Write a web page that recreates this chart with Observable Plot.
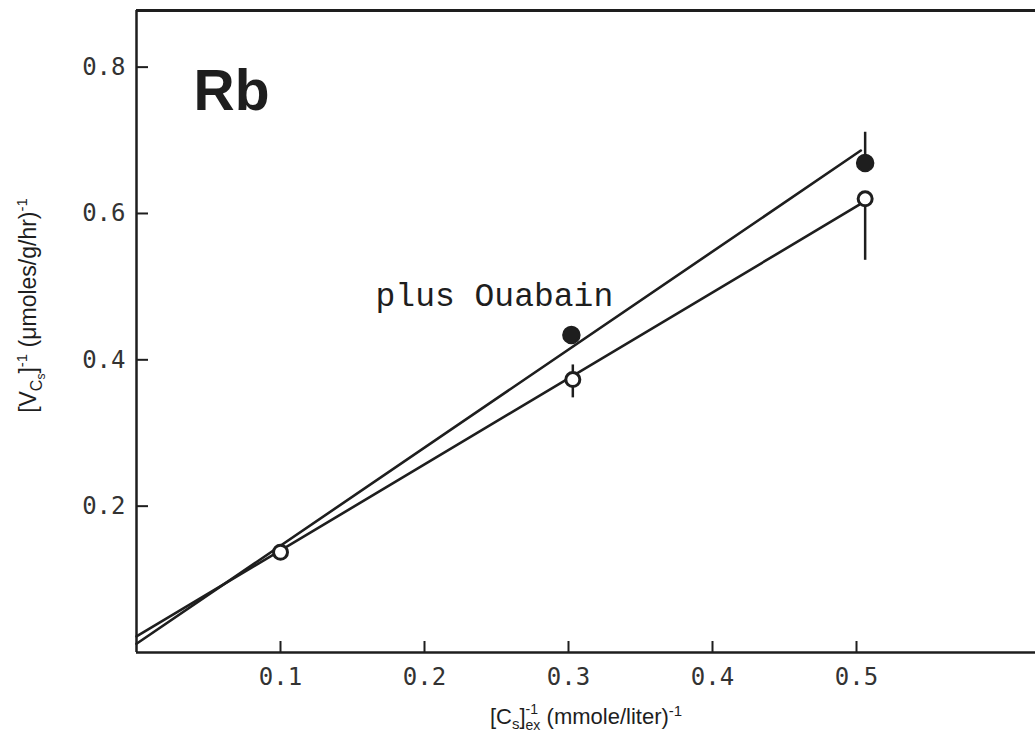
<!DOCTYPE html>
<html><head><meta charset="utf-8">
<script src="https://cdn.jsdelivr.net/npm/d3@7"></script>
<script src="https://cdn.jsdelivr.net/npm/@observablehq/plot@0.6"></script>
<style>html,body{margin:0;padding:0;background:#fff;overflow:hidden}</style>
</head><body><div id="chart"></div>
<script>
// ---- data ----
const xTicks = [0.1, 0.2, 0.3, 0.4, 0.5];
const yTicks = [0.2, 0.4, 0.6, 0.8];
const controlX = [0.1, 0.303, 0.506];
const controlY = [0.137, 0.373, 0.620];
const ouabainX = [0.302, 0.506];
const ouabainY = [0.434, 0.669];
const controlLineX = [0, 0.502];
const controlLineY = [0.022, 0.612];
const ouabainLineX = [0, 0.503];
const ouabainLineY = [0.012, 0.686];
const errX = [0.303, 0.506, 0.506];
const errLow = [0.348, 0.536, 0.669];
const errHigh = [0.393, 0.620, 0.711];
const panelLabel = "Rb";
const seriesLabel = "plus Ouabain";
const xDomain = [0, 0.6243];
const yDomain = [0, 0.8774];

// ---- build tables ----
const controlPts = controlX.map((x, i) => ({x, y: controlY[i]}));
const ouabainPts = ouabainX.map((x, i) => ({x, y: ouabainY[i]}));
const controlLine = controlLineX.map((x, i) => ({x, y: controlLineY[i]}));
const ouabainLine = ouabainLineX.map((x, i) => ({x, y: ouabainLineY[i]}));
const errs = errX.map((x, i) => ({x, y1: errLow[i], y2: errHigh[i]}));

const W = 1035, H = 736, mL = 136, mR = 0, mT = 10, mB = 84;
const pw = W - mL - mR, ph = H - mT - mB;
const ink = "#1e1e1e";

const chart = Plot.plot({
  width: W, height: H,
  marginLeft: mL, marginRight: mR, marginTop: mT, marginBottom: mB,
  style: {background: "#fff", color: "#333", fontFamily: "DejaVu Sans Mono", fontSize: "24px", overflow: "visible"},
  x: {domain: xDomain, ticks: xTicks, tickSize: 0, tickPadding: 15, tickFormat: d3.format(".1f"), label: null, line: false},
  y: {domain: yDomain, ticks: yTicks, tickSize: 0, tickPadding: 11, tickFormat: d3.format(".1f"), label: null, line: false},
  marks: [
    Plot.ruleY([yDomain[1]], {stroke: ink, strokeWidth: 3}),
    Plot.ruleY([0], {stroke: ink, strokeWidth: 2.5}),
    Plot.ruleX([0], {stroke: ink, strokeWidth: 2.5}),
    Plot.tickX(xTicks, {x: d => d, stroke: ink, strokeWidth: 2, insetTop: ph - 11}),
    Plot.tickY(yTicks, {y: d => d, stroke: ink, strokeWidth: 2, insetRight: pw - 12}),
    Plot.line(ouabainLine, {x: "x", y: "y", stroke: ink, strokeWidth: 2.6}),
    Plot.line(controlLine, {x: "x", y: "y", stroke: ink, strokeWidth: 2.6}),
    Plot.ruleX(errs, {x: "x", y1: "y1", y2: "y2", stroke: ink, strokeWidth: 2.5}),
    Plot.dot(ouabainPts, {x: "x", y: "y", r: 8.5, fill: ink, stroke: ink}),
    Plot.dot(controlPts, {x: "x", y: "y", r: 7, fill: "#fff", stroke: ink, strokeWidth: 3}),
    Plot.text([panelLabel], {x: 0.0396, y: 0.741, text: d => d, textAnchor: "start", lineAnchor: "bottom",
      fontFamily: "Liberation Sans", fontWeight: "bold", fontSize: 57, fill: ink}),
    Plot.text([seriesLabel], {x: 0.166, y: 0.474, text: d => d, textAnchor: "start", lineAnchor: "bottom",
      fontFamily: "Liberation Mono", fontSize: 33, fill: ink}),
    Plot.text(["XTITLE"], {frameAnchor: "bottom", dy: 71, text: d => d, textAnchor: "middle", lineAnchor: "bottom",
      fontFamily: "Liberation Sans", fontSize: 22, fill: ink}),
    Plot.text(["YTITLE"], {frameAnchor: "left", dx: -101, dy: -26, rotate: -90, text: d => d, textAnchor: "middle", lineAnchor: "bottom",
      fontFamily: "Liberation Sans", fontSize: 23, fill: ink})
  ]
});

// rich text (sub/superscripts) for the axis titles
const svg = d3.select(chart);
function rich(content, parts) {
  svg.selectAll("text").filter(function() { return this.textContent === content; }).each(function() {
    const t = d3.select(this);
    t.text(null);
    for (const p of parts) {
      const s = t.append("tspan").text(p.t);
      if (p.fs) s.attr("font-size", p.fs);
      if (p.dy) s.attr("dy", p.dy);
      if (p.dx) s.attr("dx", p.dx);
    }
  });
}
rich("XTITLE", [
  {t: "[C"}, {t: "s", fs: 15, dy: 5}, {t: "]", fs: 22, dy: -5},
  {t: "ex", fs: 14, dy: 6}, {t: "-1", fs: 14, dx: -14.8, dy: -16},
  {t: " (mmole/liter)", fs: 22, dx: 2.5, dy: 10}, {t: "-1", fs: 15, dy: -8}
]);
rich("YTITLE", [
  {t: "[V"}, {t: "C", fs: 16, dy: 6}, {t: "s", fs: 12, dy: 3}, {t: "]", fs: 23, dy: -9},
  {t: "-1", fs: 15, dy: -9}, {t: " (\u03bcmoles/g/hr)", fs: 23, dy: 9}, {t: "-1", fs: 15, dy: -9}
]);

document.getElementById("chart").appendChild(chart);
</script>
</body></html>
